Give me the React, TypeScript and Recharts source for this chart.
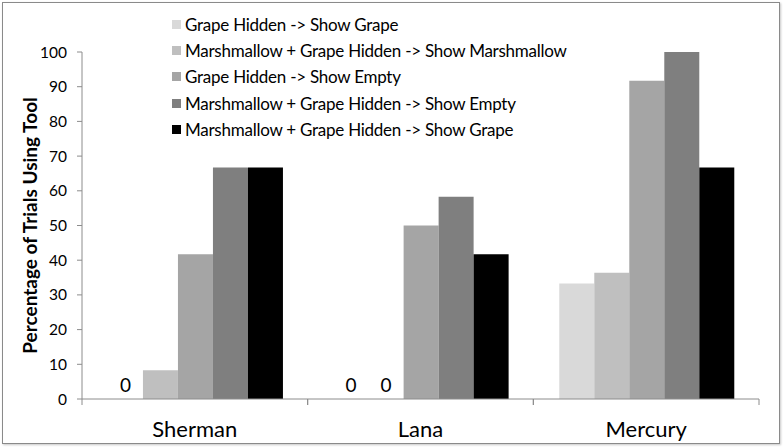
import { Bar, BarChart, Legend, Rectangle, XAxis, YAxis } from 'recharts'

const subjects = ['Sherman', 'Lana', 'Mercury']

const grapeShowGrape = [0, 0, 33.3]
const mixShowMarshmallow = [8.3, 0, 36.4]
const grapeShowEmpty = [41.7, 50, 91.7]
const mixShowEmpty = [66.7, 58.3, 100]
const mixShowGrape = [66.7, 41.7, 66.7]

const yTicks = [0, 10, 20, 30, 40, 50, 60, 70, 80, 90, 100]

const series = [
  { key: 'grapeShowGrape', name: 'Grape Hidden -> Show Grape', color: '#d9d9d9', values: grapeShowGrape },
  { key: 'mixShowMarshmallow', name: 'Marshmallow + Grape Hidden -> Show Marshmallow', color: '#bfbfbf', values: mixShowMarshmallow },
  { key: 'grapeShowEmpty', name: 'Grape Hidden -> Show Empty', color: '#a5a5a5', values: grapeShowEmpty },
  { key: 'mixShowEmpty', name: 'Marshmallow + Grape Hidden -> Show Empty', color: '#7f7f7f', values: mixShowEmpty },
  { key: 'mixShowGrape', name: 'Marshmallow + Grape Hidden -> Show Grape', color: '#000000', values: mixShowGrape },
]

const data = subjects.map((subject, i) => {
  const row: Record<string, string | number> = { subject }
  series.forEach((s) => {
    row[s.key] = s.values[i]
  })
  return row
})

const FONT = 'Lato, "Open Sans", sans-serif'
const AXIS = '#8c8c8c'

// bar rect, and a "0" above the baseline for the empty ones (as in the Excel original)
function BarWithZero(props: any) {
  const { x, y, width, height, payload, seriesKey } = props
  if (payload && Number(payload[seriesKey]) === 0) {
    return (
      <text x={x + width / 2} y={y + (height || 0) - 7} textAnchor="middle" fontSize={19} fill="#000" fontFamily={FONT}>
        0
      </text>
    )
  }
  return <Rectangle {...props} />
}

// category label plus tick marks on the band edges
function SubjectTick(props: any) {
  const { x, y, payload } = props
  const half = payload.offset ?? 0
  const axisY = y - 6
  return (
    <g>
      <line x1={x - half} x2={x - half} y1={axisY} y2={axisY + 6} stroke={AXIS} />
      <line x1={x + half} x2={x + half} y1={axisY} y2={axisY + 6} stroke={AXIS} />
      <text x={x} y={axisY + 38} textAnchor="middle" fontSize={22} fill="#000" fontFamily={FONT}>
        {payload.value}
      </text>
    </g>
  )
}

// keep the series order (Legend sorts by name otherwise)
function LegendList() {
  return (
    <div style={{ fontFamily: FONT, fontSize: 17, letterSpacing: -0.25, color: '#000' }}>
      {series.map((s) => (
        <div key={s.key} style={{ display: 'flex', alignItems: 'center', height: 26.3, whiteSpace: 'nowrap' }}>
          <span style={{ width: 9, height: 9, background: s.color, marginRight: 4, display: 'inline-block' }} />
          <span>{s.name}</span>
        </div>
      ))}
    </div>
  )
}

export default function App() {
  return (
    <div style={{ position: 'absolute', left: 0, top: 0, width: 784, height: 448, background: '#fff' }}>
      <div
        style={{
          position: 'absolute',
          left: 2,
          top: 2,
          width: 778,
          height: 442,
          boxSizing: 'border-box',
          border: '1px solid #8a8a8a',
          boxShadow: '1px 1px 2px #c8c8c8',
        }}
      />
      <div style={{ position: 'absolute', left: 0, top: 0 }}>
        <BarChart
          width={784}
          height={448}
          data={data}
          margin={{ top: 52, right: 25, bottom: 0, left: 0 }}
          barCategoryGap="11.5%"
          barGap={0}
        >
          <XAxis
            dataKey="subject"
            height={49}
            axisLine={{ stroke: AXIS }}
            tickLine={false}
            tickSize={6}
            tickMargin={0}
            tick={<SubjectTick />}
            interval={0}
          />
          <YAxis
            width={82}
            domain={[0, 100]}
            ticks={yTicks}
            interval={0}
            axisLine={{ stroke: AXIS }}
            tickLine={{ stroke: AXIS }}
            tickSize={5}
            tickMargin={10}
            tick={{ fill: '#000', fontSize: 15.5, fontFamily: FONT }}
            label={{
              value: 'Percentage of Trials Using Tool',
              angle: -90,
              position: 'center',
              dx: -11,
              style: { fontWeight: 700, fontSize: 19, fill: '#000', fontFamily: FONT },
            }}
          />
          <Legend
            layout="horizontal"
            verticalAlign="middle"
            align="center"
            wrapperStyle={{ left: 172, top: 11, width: 440, height: 132 }}
            content={<LegendList />}
          />
          {series.map((s) => (
            <Bar
              key={s.key}
              dataKey={s.key}
              name={s.name}
              fill={s.color}
              isAnimationActive={false}
              shape={(p: any) => <BarWithZero {...p} seriesKey={s.key} />}
            />
          ))}
        </BarChart>
      </div>
    </div>
  )
}
